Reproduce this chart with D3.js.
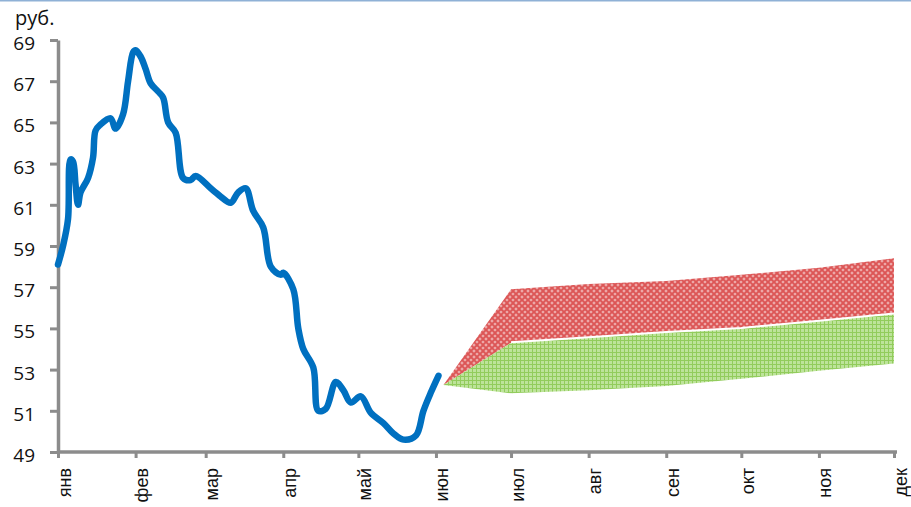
<!DOCTYPE html>
<html>
<head>
<meta charset="utf-8">
<script src="https://cdn.jsdelivr.net/npm/d3@7"></script>
<style>
  body { margin: 0; background: #fff; }
  #chart svg { display: block; }
</style>
</head>
<body>
<div id="chart"></div>
<script>
// rate history (daily-ish)
const rateDates = [
  '2015-01-01', '2015-01-03', '2015-01-05', '2015-01-06', '2015-01-07', '2015-01-08', '2015-01-09',
  '2015-01-10', '2015-01-13', '2015-01-15', '2015-01-16', '2015-01-18', '2015-01-22', '2015-01-24',
  '2015-01-27', '2015-01-29', '2015-01-31', '2015-02-01', '2015-02-03', '2015-02-05', '2015-02-07',
  '2015-02-10', '2015-02-12', '2015-02-14', '2015-02-17', '2015-02-20', '2015-02-23', '2015-02-25',
  '2015-03-03', '2015-03-05', '2015-03-07', '2015-03-11', '2015-03-14', '2015-03-17', '2015-03-20',
  '2015-03-24', '2015-03-27', '2015-03-31', '2015-04-01', '2015-04-05', '2015-04-07', '2015-04-09',
  '2015-04-13', '2015-04-15', '2015-04-18', '2015-04-22', '2015-04-25', '2015-04-28', '2015-05-02',
  '2015-05-06', '2015-05-11', '2015-05-15', '2015-05-19', '2015-05-24', '2015-05-27', '2015-05-30',
  '2015-06-02'
];
const rateValues = [
  58.1, 59.0, 60.3, 63.2, 63.1, 62.0, 61.0,
  61.6, 62.3, 63.3, 64.6, 64.9, 65.2, 64.7,
  65.4, 67.0, 68.4, 68.5, 68.2, 67.6, 66.9,
  66.5, 66.2, 65.0, 64.5, 62.3, 62.2, 62.4,
  61.8, 61.6, 61.4, 61.1, 61.6, 61.8, 60.7,
  59.9, 58.0, 57.6, 57.7, 56.9, 55.0, 54.0,
  53.1, 51.0, 51.1, 52.4, 52.0, 51.4, 51.7,
  50.9, 50.4, 49.9, 49.6, 49.8, 51.0, 51.9,
  52.7
];

// forecast corridor
const forecastDates = ['2015-06-04', '2015-07-01', '2015-08-01', '2015-09-01', '2015-10-01', '2015-11-01', '2015-12-01'];
const greenLow = [52.25, 51.85, 52.0, 52.2, 52.55, 52.95, 53.3];
const greenHigh = [52.25, 54.3, 54.55, 54.8, 55.0, 55.35, 55.7];
const redHigh = [52.25, 56.9, 57.15, 57.3, 57.6, 57.95, 58.4];

const monthLabels = ['янв', 'фев', 'мар', 'апр', 'май', 'июн', 'июл', 'авг', 'сен', 'окт', 'ноя', 'дек'];
const yTicks = [49, 51, 53, 55, 57, 59, 61, 63, 65, 67, 69];

function drawChart() {
  const w = 911;
  const h = 507;
  const parse = d3.timeParse('%Y-%m-%d');

  const svg = d3.select('#chart').append('svg').attr('width', w).attr('height', h);

  // patterns for the two corridors
  const defs = svg.append('defs');
  const red = defs.append('pattern').attr('id', 'redPat').attr('width', 6).attr('height', 6)
    .attr('patternUnits', 'userSpaceOnUse');
  red.append('rect').attr('width', 6).attr('height', 6).attr('fill', '#eeaaaa');
  red.append('path').attr('d', 'M0,0 L6,6 M6,0 L0,6 M3,-3 L9,3 M-3,3 L3,9 M3,-3 L-3,3 M9,3 L3,9')
    .attr('stroke', '#dc5656').attr('stroke-width', 1.9);

  const green = defs.append('pattern').attr('id', 'greenPat').attr('width', 4).attr('height', 4)
    .attr('patternUnits', 'userSpaceOnUse');
  green.append('rect').attr('width', 4).attr('height', 4).attr('fill', '#bde39a');
  green.append('path').attr('d', 'M0.5,0 V4 M0,0.5 H4').attr('stroke', '#92cc5c').attr('stroke-width', 1);

  // top frame line
  svg.append('line').attr('x1', 0).attr('x2', w).attr('y1', 0.75).attr('y2', 0.75)
    .attr('stroke', '#8fb1d6').attr('stroke-width', 1.5);

  const x = d3.scaleTime().domain([parse('2015-01-01'), parse('2015-12-01')]).range([58, 894]);
  const y = d3.scaleLinear().domain([49, 69]).range([452, 40]);

  const fc = forecastDates.map((d, i) => ({ date: parse(d), lo: greenLow[i], mid: greenHigh[i], hi: redHigh[i] }));

  // red corridor
  svg.append('path').datum(fc)
    .attr('fill', 'url(#redPat)')
    .attr('d', d3.area().x((d) => x(d.date)).y0((d) => y(d.mid)).y1((d) => y(d.hi)));

  // green corridor
  svg.append('path').datum(fc)
    .attr('fill', 'url(#greenPat)')
    .attr('d', d3.area().x((d) => x(d.date)).y0((d) => y(d.lo)).y1((d) => y(d.mid)));

  // thin white seam between them
  svg.append('path').datum(fc.slice(1))
    .attr('fill', 'none').attr('stroke', '#fff').attr('stroke-width', 2)
    .attr('d', d3.line().x((d) => x(d.date)).y((d) => y(d.mid) - 0.5));

  // axes
  const yAxis = svg.append('g').attr('transform', 'translate(58,0)')
    .call(d3.axisLeft(y).tickValues(yTicks).tickSize(8).tickSizeOuter(0).tickPadding(15));
  yAxis.selectAll('text')
    .attr('dy', '0.5em')
    .style('font-family', '"Open Sans", sans-serif')
    .style('font-size', '19px')
    .attr('fill', '#111');

  const months = d3.timeMonths(parse('2015-01-01'), parse('2015-12-02'));
  const xAxis = svg.append('g').attr('transform', 'translate(0,452)')
    .call(d3.axisBottom(x).tickValues(months).tickSize(6).tickSizeOuter(0)
      .tickFormat((d, i) => monthLabels[i]));
  xAxis.selectAll('text')
    .attr('transform', 'rotate(-90)')
    .attr('text-anchor', 'end')
    .attr('x', -16)
    .attr('y', 12)
    .attr('dy', 0)
    .style('font-family', '"Liberation Sans", Arial, sans-serif')
    .style('font-size', '18px')
    .attr('fill', '#111');

  svg.selectAll('.domain').attr('stroke', '#8c8c8c').attr('stroke-width', 3.5);
  svg.selectAll('.tick line').attr('stroke', '#8c8c8c').attr('stroke-width', 3);
  xAxis.select('.domain').attr('d', 'M58,0H897');

  // rate line
  const pts = rateDates.map((d, i) => ({ date: parse(d), v: rateValues[i] }));
  svg.append('path').datum(pts)
    .attr('fill', 'none')
    .attr('stroke', '#0070c0')
    .attr('stroke-width', 6.5)
    .attr('stroke-linejoin', 'round')
    .attr('stroke-linecap', 'round')
    .attr('d', d3.line().curve(d3.curveCatmullRom.alpha(0.5)).x((d) => x(d.date)).y((d) => y(d.v)));

  // unit label
  svg.append('text').attr('x', 15).attr('y', 25)
    .style('font-family', '"Open Sans", sans-serif')
    .style('font-size', '20px')
    .attr('fill', '#111')
    .text('руб.');
}

window.onload = function () {
  drawChart();
};
</script>
</body>
</html>
